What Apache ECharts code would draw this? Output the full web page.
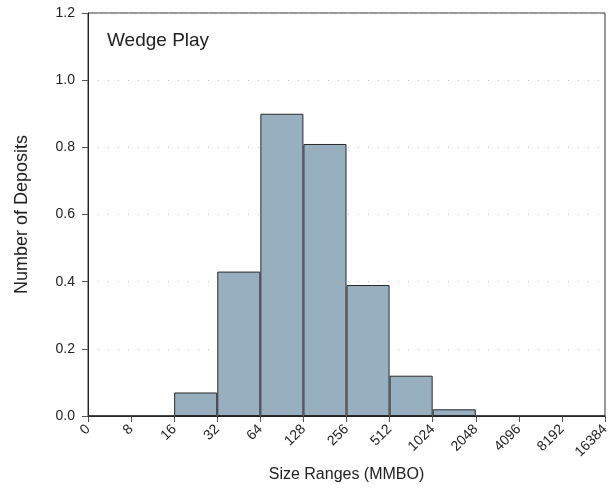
<!DOCTYPE html>
<html><head><meta charset="utf-8">
<script src="https://cdn.jsdelivr.net/npm/echarts@6/dist/echarts.min.js"></script>
<style>html,body{margin:0;padding:0;background:#fff}#c{width:616px;height:491px}</style>
</head><body><div id="c"></div>
<script>
const tickLabels = ['0','8','16','32','64','128','256','512','1024','2048','4096','8192','16384'];
const bins = ['0-8','8-16','16-32','32-64','64-128','128-256','256-512','512-1024','1024-2048','2048-4096','4096-8192','8192-16384'];
const deposits = [0, 0, 0.07, 0.43, 0.90, 0.81, 0.39, 0.12, 0.02, 0, 0, 0];
const yTicks = [0, 0.2, 0.4, 0.6, 0.8, 1.0, 1.2];

const font = 'Liberation Sans, Arial, sans-serif';
const chart = echarts.init(document.getElementById('c'));
chart.setOption({
  animation: false,
  backgroundColor: '#fff',
  title: { text: 'Wedge Play', left: 102, top: 26, textStyle: { fontFamily: font, fontSize: 19, fontWeight: 'normal', color: '#222' } },
  grid: { left: 88, right: 11, top: 13, bottom: 75, show: true, borderColor: '#333', borderWidth: 1,
    containLabel: false, outerBoundsMode: 'none' },
  xAxis: [
    { type: 'value', min: 0, max: 12, interval: 1, position: 'bottom',
      axisLine: { show: true, lineStyle: { color: '#222', width: 1 } },
      axisTick: { show: true, length: 6, lineStyle: { color: '#555' } },
      splitLine: { show: false },
      axisLabel: { rotate: 45, margin: 11, fontFamily: font, fontSize: 14, color: '#222',
        formatter: v => tickLabels[Math.round(v)] },
      name: 'Size Ranges (MMBO)', nameLocation: 'middle', nameGap: 50,
      nameTextStyle: { fontFamily: font, fontSize: 16, color: '#222' } },
    { type: 'category', data: bins, show: false, boundaryGap: true, position: 'bottom' }
  ],
  yAxis: { type: 'value', min: 0, max: 1.2, interval: 0.2,
    axisLine: { show: true, lineStyle: { color: '#222' } },
    axisTick: { show: true, length: 6, lineStyle: { color: '#555' } },
    axisLabel: { fontFamily: font, fontSize: 14, color: '#222', margin: 13, formatter: v => v.toFixed(1) },
    splitLine: { show: true, lineStyle: { color: '#c4c4c4', type: [1, 9], width: 1 } },
    name: 'Number of Deposits', nameLocation: 'middle', nameGap: 57,
    nameTextStyle: { fontFamily: font, fontSize: 18, color: '#222' } },
  series: [{
    type: 'bar', xAxisIndex: 1, data: deposits, barWidth: '100%', barGap: '0%',
    itemStyle: { color: '#98afc0', borderColor: '#2a2a2a', borderWidth: 1 }
  }]
});
</script></body></html>
